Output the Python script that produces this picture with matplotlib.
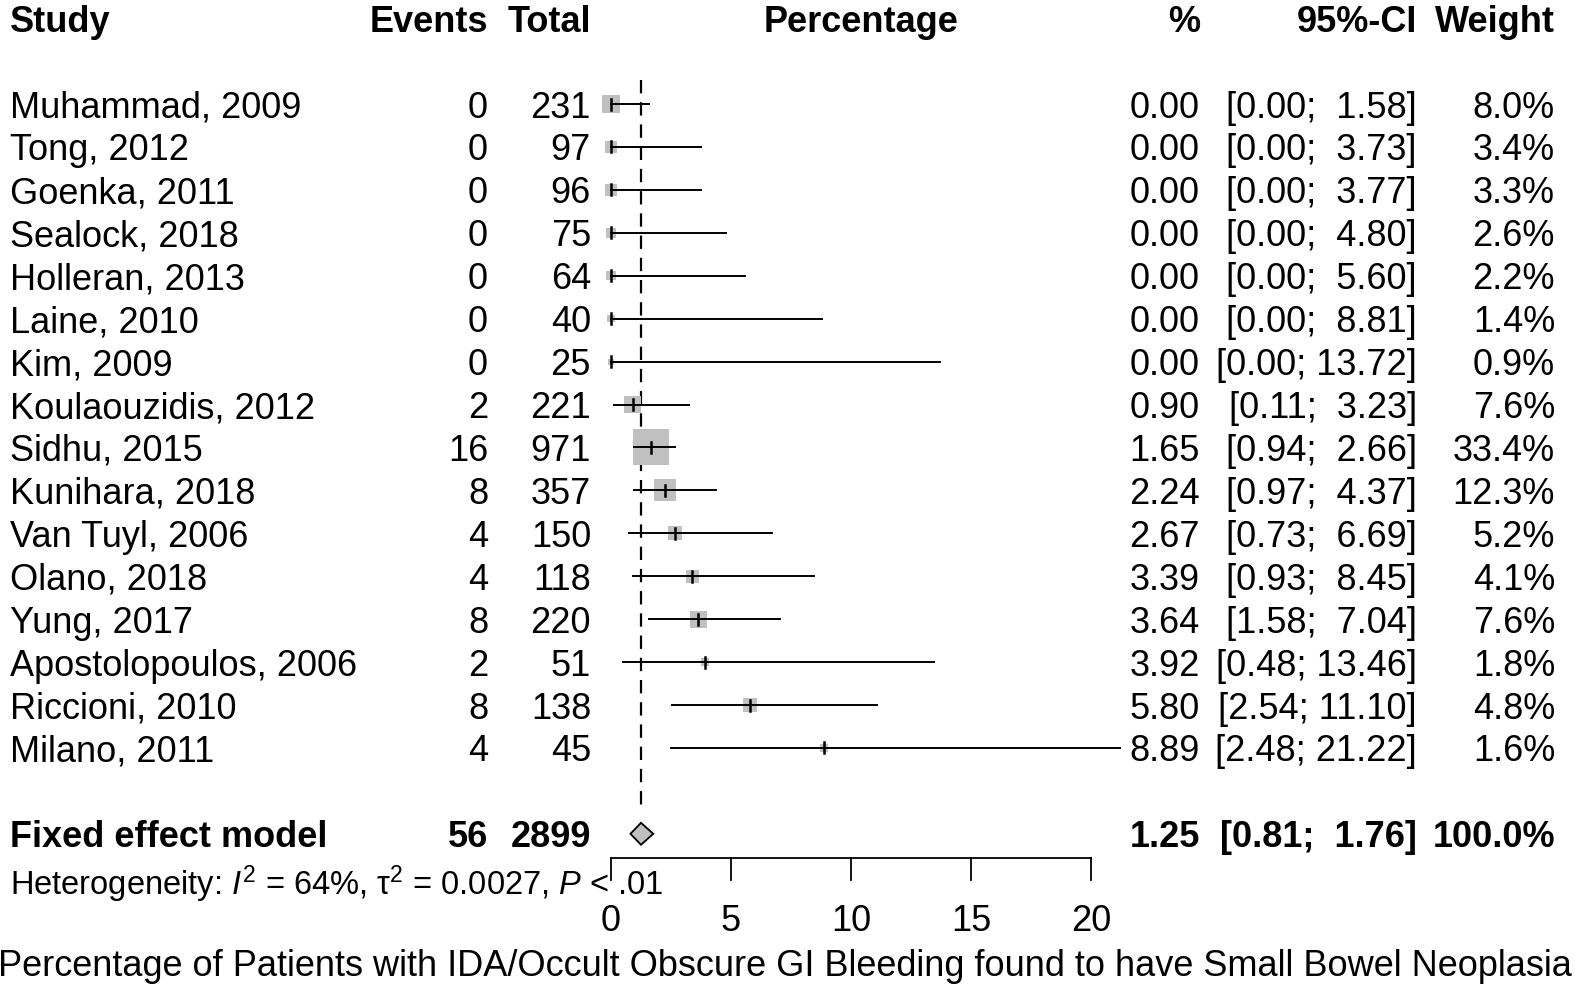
import numpy as np
import matplotlib.pyplot as plt
from matplotlib.patches import Rectangle, Polygon
from matplotlib.transforms import blended_transform_factory

plt.rcParams['font.family'] = ['Liberation Sans', 'DejaVu Sans']
plt.rcParams['mathtext.fontset'] = 'custom'
plt.rcParams['mathtext.rm'] = 'Liberation Sans'
plt.rcParams['mathtext.it'] = 'Liberation Sans:italic'

# study data
studies = ["Muhammad, 2009", "Tong, 2012", "Goenka, 2011", "Sealock, 2018",
           "Holleran, 2013", "Laine, 2010", "Kim, 2009", "Koulaouzidis, 2012",
           "Sidhu, 2015", "Kunihara, 2018", "Van Tuyl, 2006", "Olano, 2018",
           "Yung, 2017", "Apostolopoulos, 2006", "Riccioni, 2010", "Milano, 2011"]
events = [0, 0, 0, 0, 0, 0, 0, 2, 16, 8, 4, 4, 8, 2, 8, 4]
totals = [231, 97, 96, 75, 64, 40, 25, 221, 971, 357, 150, 118, 220, 51, 138, 45]
est = [0.00, 0.00, 0.00, 0.00, 0.00, 0.00, 0.00, 0.90, 1.65, 2.24, 2.67, 3.39,
       3.64, 3.92, 5.80, 8.89]
lower = [0.00, 0.00, 0.00, 0.00, 0.00, 0.00, 0.00, 0.11, 0.94, 0.97, 0.73, 0.93,
         1.58, 0.48, 2.54, 2.48]
upper = [1.58, 3.73, 3.77, 4.80, 5.60, 8.81, 13.72, 3.23, 2.66, 4.37, 6.69, 8.45,
         7.04, 13.46, 11.10, 21.22]
weights = [8.0, 3.4, 3.3, 2.6, 2.2, 1.4, 0.9, 7.6, 33.4, 12.3, 5.2, 4.1, 7.6,
           1.8, 4.8, 1.6]

# pooled result
fixed_label = "Fixed effect model"
fixed_events = 56
fixed_total = 2899
fixed_est = 1.25
fixed_lower = 0.81
fixed_upper = 1.76

xticks = [0, 5, 10, 15, 20]

W, H = 1575, 992
PX = 24.0      # pixels per percentage unit
X0 = 611       # pixel of 0%
ROW = 42.93    # pixels per row
Y0 = 104       # pixel of first row
TOFF = 4 / ROW # nudge text down so caps sit on the row centre

fig = plt.figure(figsize=(W / 100, H / 100), dpi=100)
ax = fig.add_axes([0, 0, 1, 1])
ax.set_xlim(-X0 / PX, (W - X0) / PX)
ax.set_ylim((H - Y0) / ROW, -Y0 / ROW)
ax.axis('off')

tr = blended_transform_factory(ax.transAxes, ax.transData)

def col(px):
    return px / W

def put(px, y, s, ha='right', **kw):
    ax.text(col(px), y + TOFF, s, transform=tr, ha=ha, va='center',
            fontsize=kw.pop('fontsize', fs), **kw)

fs = 26
grey = '#c0c0c0'

# header
hy = -2
put(10, hy, "Study", ha='left', fontweight='bold')
put(488, hy, "Events", fontweight='bold')
put(591, hy, "Total", fontweight='bold')
put(861, hy, "Percentage", ha='center', fontweight='bold')
put(1200, hy, "%", fontweight='bold')
put(1417, hy, "95%-CI", fontweight='bold')
put(1555, hy, "Weight", fontweight='bold')

# reference line at pooled estimate
ax.plot([fixed_est, fixed_est], [-0.56, 16.5], color='black', lw=1.6,
        dashes=(6, 4), zorder=1)

maxw = max(weights)
for i, name in enumerate(studies):
    put(10, i, name, ha='left')
    put(488, i, str(events[i]))
    put(591, i, str(totals[i]))
    put(1200, i, f"{est[i]:.2f}")
    put(1417, i, f"[{lower[i]:.2f}; {upper[i]:5.2f}]")
    put(1555, i, f"{weights[i]:.1f}%")

    side = 36 * np.sqrt(weights[i] / maxw)
    ax.add_patch(Rectangle((est[i] - side / PX / 2, i - side / ROW / 2),
                           side / PX, side / ROW, facecolor=grey,
                           edgecolor='none', zorder=2))
    ax.plot([lower[i], upper[i]], [i, i], color='black', lw=1.4, zorder=3)
    ax.plot([est[i], est[i]], [i - 5.5 / ROW, i + 5.5 / ROW], color='black',
            lw=1.8, zorder=3)

# pooled row
fy = 17
put(10, fy, fixed_label, ha='left', fontweight='bold')
put(488, fy, str(fixed_events), fontweight='bold')
put(591, fy, str(fixed_total), fontweight='bold')
put(1200, fy, f"{fixed_est:.2f}", fontweight='bold')
put(1417, fy, f"[{fixed_lower:.2f}; {fixed_upper:5.2f}]", fontweight='bold')
put(1555, fy, "100.0%", fontweight='bold')
dh = 11 / ROW
ax.add_patch(Polygon([(fixed_lower, fy), (fixed_est, fy - dh), (fixed_upper, fy),
                      (fixed_est, fy + dh)], closed=True, facecolor=grey,
                     edgecolor='black', lw=1.3, zorder=3))

# x axis
ay = (858 - Y0) / ROW
ax.plot([xticks[0], xticks[-1]], [ay, ay], color='black', lw=1.3)
for t in xticks:
    ax.plot([t, t], [ay, ay + 22 / ROW], color='black', lw=1.3)
    ax.text(t, (918 - Y0) / ROW + TOFF, str(t), ha='center', va='center', fontsize=fs)

put(10, (880 - Y0) / ROW,
    r"Heterogeneity: $I^2$ = 64%, $\mathrm{\tau}^2$ = 0.0027, $P$ < .01",
    ha='left', fontsize=23.5)

put(785, (963 - Y0) / ROW,
    "Percentage of Patients with IDA/Occult Obscure GI Bleeding found to have Small Bowel Neoplasia",
    ha='center')

fig.savefig('out.png', dpi=100)
